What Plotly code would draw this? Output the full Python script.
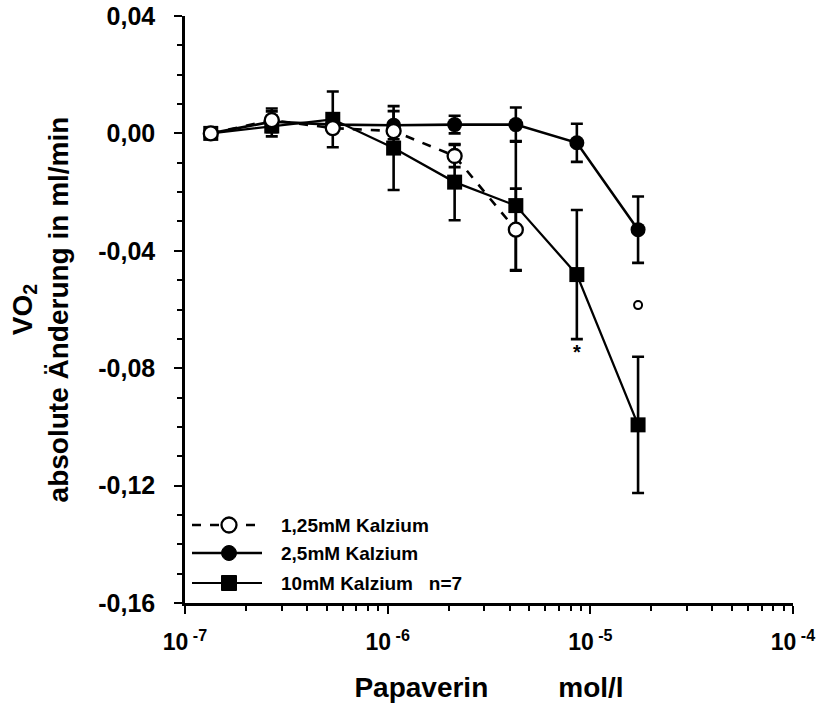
import plotly.graph_objects as go

# Papaverin concentration (mol/l)
conc = [1.34e-7, 2.68e-7, 5.36e-7, 1.07e-6, 2.14e-6, 4.29e-6, 8.58e-6, 1.72e-5]

# 1,25 mM Kalzium (6 points)
ca125_y = [0.000, 0.0045, 0.0018, 0.0008, -0.0077, -0.0328]
ca125_err = [0.0, 0.0040, 0.0, 0.0, 0.0038, 0.014]

# 2,5 mM Kalzium
ca25_y = [0.000, 0.0040, 0.0030, 0.0028, 0.0030, 0.0030, -0.0032, -0.0328]
ca25_err = [0.0, 0.0035, 0.0, 0.0048, 0.0030, 0.0058, 0.0065, 0.0113]

# 10 mM Kalzium n=7
ca10_y = [0.000, 0.0025, 0.0048, -0.0050, -0.0166, -0.0246, -0.0481, -0.0993]
ca10_err = [0.0, 0.0035, 0.0095, 0.0143, 0.0130, 0.0220, 0.0220, 0.0232]

series_names = ["1,25mM Kalzium", "2,5mM Kalzium", "10mM Kalzium&nbsp;&nbsp; n=7"]

# significance markers
star_x, star_y = [8.58e-6], [-0.0752]
deg_x, deg_y = [1.72e-5], [-0.0585]

y_ticks = [0.04, 0.00, -0.04, -0.08, -0.12, -0.16]
y_ticktext = ["0,04", "0,00", "-0,04", "-0,08", "-0,12", "-0,16"]
x_ticks = [1e-7, 1e-6, 1e-5, 1e-4]
x_ticktext = ["10<sup> -7</sup>", "10<sup> -6</sup>", "10<sup> -5</sup>", "10<sup> -4</sup>"]

FONT = "Liberation Sans, Arial, Helvetica, sans-serif"
W, H = 826, 704
ML, MR, MT, MB = 185, 33, 16, 101
PW, PH = W - ML - MR, H - MT - MB


def px_x(px):
    return (px - ML) / PW


def px_y(py):
    return (H - MB - py) / PH


fig = go.Figure()

err_style = dict(type="data", visible=True, color="black", thickness=2.6, width=6)

fig.add_trace(go.Scatter(
    x=conc, y=ca10_y, mode="lines+markers", name=series_names[2], showlegend=False,
    line=dict(color="black", width=2.3),
    marker=dict(symbol="square", size=15, color="black"),
    error_y=dict(array=ca10_err, **err_style),
))
fig.add_trace(go.Scatter(
    x=conc, y=ca25_y, mode="lines+markers", name=series_names[1], showlegend=False,
    line=dict(color="black", width=2.6),
    marker=dict(symbol="circle", size=15, color="black"),
    error_y=dict(array=ca25_err, **err_style),
))
fig.add_trace(go.Scatter(
    x=conc[:len(ca125_y)], y=ca125_y, mode="lines+markers", name=series_names[0], showlegend=False,
    line=dict(color="black", width=2.6, dash="dash"),
    marker=dict(symbol="circle", size=14, color="white", line=dict(color="black", width=2.3)),
    error_y=dict(array=ca125_err, **err_style),
))
fig.add_trace(go.Scatter(
    x=star_x, y=star_y, mode="text", text=["*"], showlegend=False,
    textfont=dict(family=FONT, size=20, color="black", weight="bold"),
))
fig.add_trace(go.Scatter(
    x=deg_x, y=deg_y, mode="markers", showlegend=False,
    marker=dict(symbol="circle-open", size=8, color="black", line=dict(width=2)),
))

# custom legend (longer sample lines as in the reference)
legend_rows = [525, 553, 583]
shapes = []
annotations = []
for i, (name, py) in enumerate(zip(series_names, legend_rows)):
    yy = px_y(py)
    shapes.append(dict(
        type="line", xref="paper", yref="paper",
        x0=px_x(192), x1=px_x(262), y0=yy, y1=yy,
        line=dict(color="black", width=2.6 if i < 2 else 2.2, dash="dash" if i == 0 else "solid"),
    ))
    common = dict(xref="paper", yref="paper", xsizemode="pixel", ysizemode="pixel",
                  xanchor=px_x(229), yanchor=yy, x0=-7.5, x1=7.5, y0=-7.5, y1=7.5)
    if i == 0:
        shapes.append(dict(type="circle", fillcolor="white", line=dict(color="black", width=2.3), **common))
    elif i == 1:
        shapes.append(dict(type="circle", fillcolor="black", line=dict(color="black", width=1), **common))
    else:
        shapes.append(dict(type="rect", fillcolor="black", line=dict(color="black", width=1), **common))
    annotations.append(dict(
        xref="paper", yref="paper", x=px_x(279), y=yy, xanchor="left", yanchor="middle",
        text=name, showarrow=False, font=dict(family=FONT, size=19, color="black", weight="bold"),
    ))

fig.update_layout(
    width=W, height=H,
    margin=dict(l=ML, r=MR, t=MT, b=MB),
    paper_bgcolor="white", plot_bgcolor="white",
    font=dict(family=FONT, color="black", weight="bold"),
    showlegend=False,
    shapes=shapes,
    annotations=annotations,
)

fig.update_xaxes(
    type="log", range=[-7, -4], automargin=False,
    tickvals=x_ticks, ticktext=x_ticktext,
    tickfont=dict(size=23, family=FONT, weight="bold"),
    ticks="outside", ticklen=8, tickwidth=2, tickcolor="black",
    ticklabelstandoff=9,
    minor=dict(ticks="outside", ticklen=5, tickwidth=2, tickcolor="black", dtick="D1", showgrid=False),
    showline=True, linecolor="black", linewidth=2.5,
    showgrid=False, zeroline=False,
    title=dict(text="Papaverin&nbsp;&nbsp;&nbsp;&nbsp;&nbsp;&nbsp;&nbsp;&nbsp; mol/l",
               font=dict(size=28, family=FONT, weight="bold"), standoff=24),
)
fig.update_yaxes(
    range=[-0.16, 0.04], automargin=False,
    tickvals=y_ticks, ticktext=y_ticktext,
    tickfont=dict(size=25, family=FONT, weight="bold"),
    ticks="outside", ticklen=8, tickwidth=2, tickcolor="black",
    ticklabelstandoff=14,
    minor=dict(ticks="outside", ticklen=5, tickwidth=2, tickcolor="black", dtick=0.01, showgrid=False),
    showline=True, linecolor="black", linewidth=2.5,
    showgrid=False, zeroline=False,
    title=dict(text="VO<sub>2</sub><br>absolute Änderung in ml/min",
               font=dict(size=28, family=FONT, weight="bold"), standoff=22),
)

fig.write_html("out.html")
